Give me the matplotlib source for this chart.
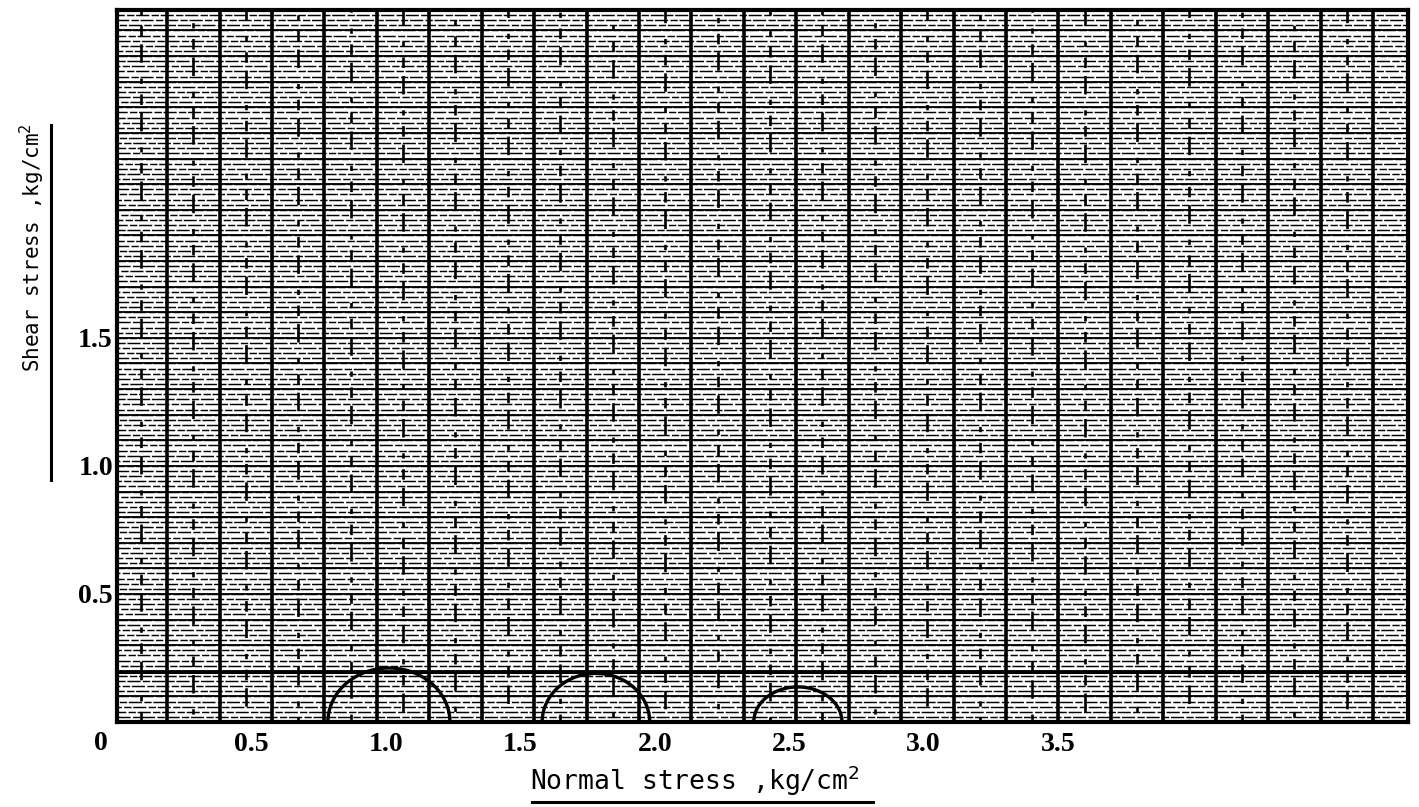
"""
Mohr circles on scanned-style graph paper (shear vs normal stress).
"""
import numpy as np
import matplotlib
matplotlib.use('Agg')
import matplotlib.pyplot as plt
from matplotlib.lines import Line2D

# Data: three Mohr semicircles (kg/cm^2)
centers = [1.011, 1.781, 2.532]
half_widths = [0.227, 0.200, 0.164]
heights = [0.211, 0.190, 0.137]

x_ticks = [0.5, 1.0, 1.5, 2.0, 2.5, 3.0, 3.5]
x_ticklabels = ['0.5', '1.0', '1.5', '2.0', '2.5', '3.0', '3.5']
y_ticks = [0.5, 1.0, 1.5]
y_ticklabels = ['0.5', '1.0', '1.5']

fig = plt.figure(figsize=(14.19, 8.07), dpi=100, facecolor='white')
ax = fig.add_axes([0.0825, 0.1053, 0.9095, 0.8823])
ax.set_xlim(0, 4.8)
ax.set_ylim(0, 2.78)

# graph paper: dense horizontal rulings
fine = np.arange(0.02, 2.78, 0.02)
for i, y in enumerate(fine):
    ax.axhline(y, color='black', lw=1.05,
               linestyle=(i * 3 % 11, (9, 1.6, 5, 1.2)), zorder=1)
for y in np.arange(0.1, 2.78, 0.1):
    ax.axhline(y, color='black', lw=1.3, zorder=1)
ax.axhline(0.195, color='black', lw=2.2, zorder=1)

# graph paper: vertical rulings (solid majors, broken minors)
majors = np.arange(0.186, 4.8, 0.195)
for i, xv in enumerate(majors):
    ax.axvline(xv, color='black', lw=2.6, zorder=2)
    ax.axvline(xv - 0.0975, color='black', lw=1.9,
               linestyle=(i * 5 % 13, (4, 4, 2, 6, 7, 3)), zorder=2)

# Mohr semicircles
t = np.linspace(0, np.pi, 200)
for c, hw, h in zip(centers, half_widths, heights):
    ax.plot(c + hw * np.cos(t), h * np.sin(t), color='black', lw=2.4,
            zorder=4, solid_capstyle='round')

for s in ax.spines.values():
    s.set_linewidth(3.0)
    s.set_color('black')

ax.set_xticks(x_ticks)
ax.set_xticklabels(x_ticklabels)
ax.set_yticks(y_ticks)
ax.set_yticklabels(y_ticklabels)
ax.tick_params(length=0, pad=7, labelsize=20)
for lab in ax.get_xticklabels() + ax.get_yticklabels():
    lab.set_family('Liberation Serif')
    lab.set_fontweight('bold')
ax.tick_params(axis='y', pad=3)

ax.text(-0.06, -0.035, '0', transform=ax.transData, ha='center', va='top',
        fontsize=20, fontweight='bold', family='Liberation Serif')

# axis titles with underlines
fig.text(0.490, 0.032, r'Normal stress ,kg/cm$^2$', ha='center', va='center',
         fontsize=19, family='DejaVu Sans Mono')
fig.add_artist(Line2D([0.375, 0.615], [0.006, 0.006], color='black', lw=2.2))
fig.text(0.023, 0.693, r'Shear stress ,kg/cm$^2$', ha='center', va='center',
         rotation=90, fontsize=15, family='DejaVu Sans Mono')
fig.add_artist(Line2D([0.036, 0.036], [0.405, 0.845], color='black', lw=2.2))

plt.savefig('out.png', dpi=100, facecolor='white')
